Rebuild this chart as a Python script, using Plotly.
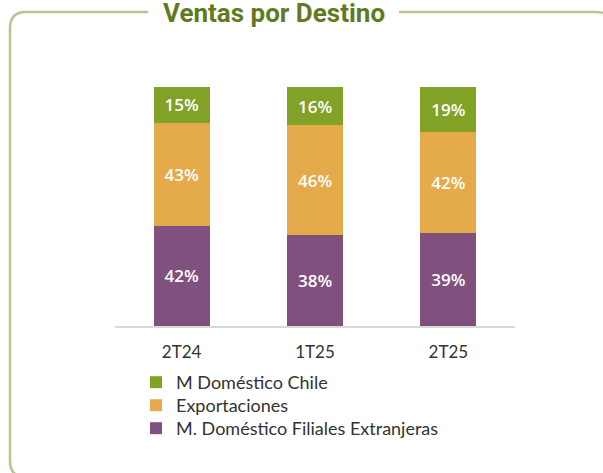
import plotly.graph_objects as go

categories = ["2T24", "1T25", "2T25"]
filiales = [42, 38, 39]
exportaciones = [43, 46, 42]
chile = [15, 16, 19]
series_names = ["M. Doméstico Filiales Extranjeras", "Exportaciones", "M Doméstico Chile"]
colors = ["#80507f", "#e5aa4a", "#82a127"]

W, H = 603, 473
L, R, T, B = 115, 515, 87, 326

def px(x):
    return (x - L) / (R - L)

def py(y):
    return (B - y) / (B - T)

legend_ids = ["legend3", "legend2", "legend"]
row_centers = [428, 405, 382]

fig = go.Figure()
for name, vals, col, lg in zip(series_names, [filiales, exportaciones, chile], colors, legend_ids):
    fig.add_trace(go.Bar(
        x=categories, y=vals, name=name, legend=lg,
        marker=dict(color=col, line=dict(width=0)),
        text=[f"{v}%" for v in vals], textposition="inside", insidetextanchor="middle",
        textfont=dict(family="Open Sans", size=17, color="white", weight=600),
        constraintext="none",
    ))

r = 16
left_path = (f"M {px(148)},{py(12)} L {px(10+r)},{py(12)} "
             f"Q {px(10)},{py(12)} {px(10)},{py(12+r)} "
             f"L {px(10)},{py(477-r)} Q {px(10)},{py(477)} {px(10+r)},{py(477)} "
             f"L {px(612-r)},{py(477)}")
right_path = (f"M {px(399)},{py(12)} L {px(612-r)},{py(12)} "
              f"Q {px(612)},{py(12)} {px(612)},{py(12+r)} L {px(612)},{py(477)}")
shapes = [dict(type="path", path=p, xref="paper", yref="paper",
               line=dict(color="#b5c790", width=2.5), layer="below")
          for p in (left_path, right_path)]

legend_layout = {}
for lg, yc in zip(legend_ids, row_centers):
    legend_layout[lg] = dict(orientation="v", x=px(136), y=py(yc - 18),
                             xanchor="left", yanchor="top",
                             font=dict(family="Lato", size=18, color="#333333"),
                             itemwidth=30, bgcolor="rgba(0,0,0,0)")

fig.update_layout(
    width=W, height=H,
    margin=dict(l=L, r=W - R, t=T, b=H - B, pad=0),
    barmode="stack", bargap=0.58,
    plot_bgcolor="white", paper_bgcolor="white",
    font=dict(family="Lato", color="#333333"),
    showlegend=True,
    xaxis=dict(showgrid=False, showline=True, linecolor="#d9d9d9", linewidth=1.5,
               tickfont=dict(family="Lato", size=17, color="#333333"), ticks="",
               ticklabelstandoff=10),
    yaxis=dict(range=[0, 100], visible=False, showgrid=False),
    shapes=shapes,
    annotations=[dict(text="<b>Ventas por Destino</b>", x=px(274), y=py(13), xref="paper", yref="paper",
                      xanchor="center", yanchor="middle", showarrow=False,
                      font=dict(family="Roboto", size=26, color="#5e7b1f"))],
    **legend_layout,
)

fig.write_html("out.html", config={"displayModeBar": False},
               post_script="document.body.style.margin='0';document.body.style.overflow='hidden';")
